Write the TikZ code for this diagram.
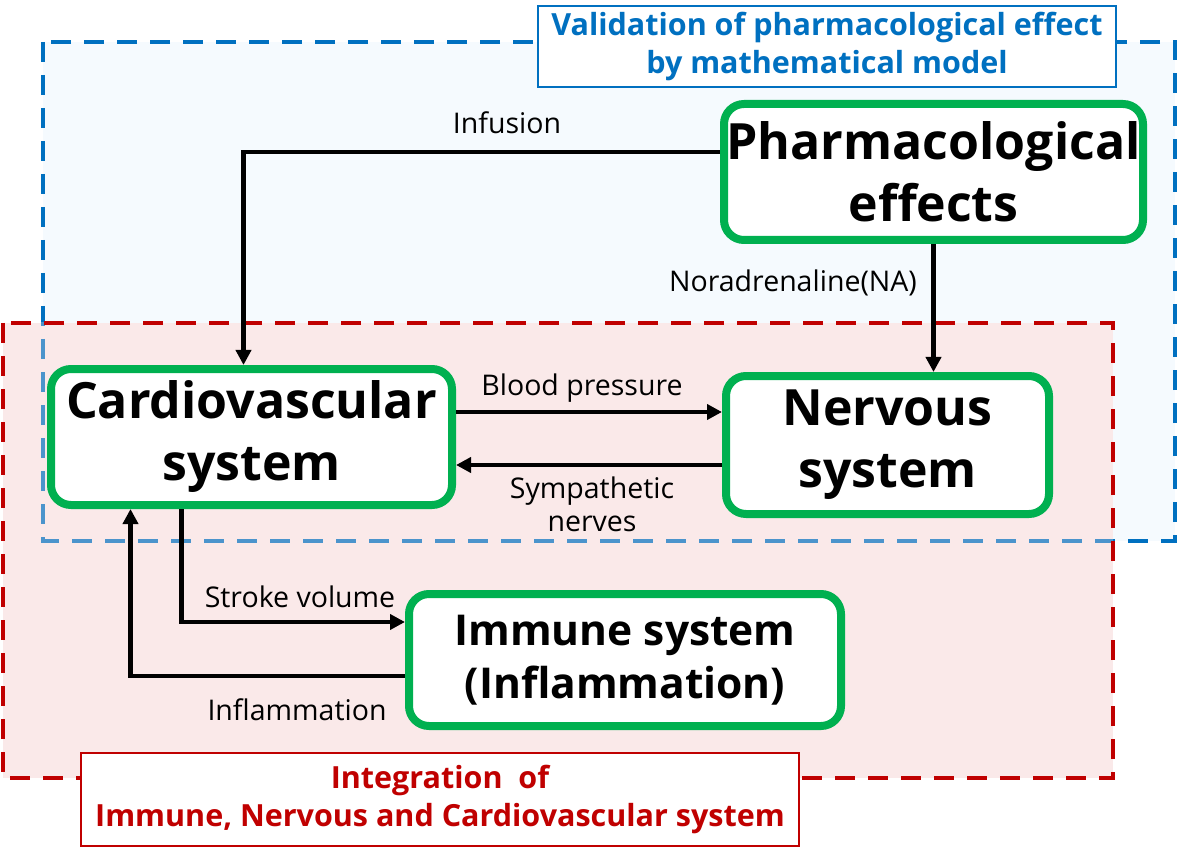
\documentclass[tikz,border=0pt]{standalone}
\usepackage{fontspec}
\setmainfont{Open Sans}
\usetikzlibrary{arrows.meta}
\definecolor{gbox}{RGB}{0,176,80}
\definecolor{bline}{RGB}{0,112,192}
\definecolor{rline}{RGB}{192,0,0}
\definecolor{bfill}{RGB}{245,250,254}
\definecolor{pfill}{RGB}{250,233,233}
\begin{document}
\begin{tikzpicture}[x=1pt,y=-1pt,
  sysbox/.style={draw=gbox,line width=8pt,rounded corners=20pt,fill=white,align=center,inner sep=0pt,
    font=\bfseries\fontsize{50}{62}\selectfont},
  arr/.style={line width=4.5pt,-{Triangle[length=15pt,width=15pt]}},
  lbl/.style={align=center,inner sep=0pt,font=\fontsize{28.5}{33}\selectfont},
  titlebox/.style={line width=2pt,fill=white,align=center,inner sep=0pt,
    font=\bfseries\fontsize{30.5}{38}\selectfont},
  region/.style={line width=4pt,dash pattern=on 20pt off 13pt}
]
\useasboundingbox (0,0) rectangle (1181,850);
% regions
\fill[bfill] (43,42) rectangle (1175,541);
\fill[pfill] (3,323) rectangle (1113,778);
\draw[region,draw=bline] (43,42) rectangle (1175,541);
\begin{scope}
  \clip (3,323) rectangle (1113,778);
  \draw[region,draw=pfill,draw opacity=0.3] (43,42) rectangle (1175,541);
\end{scope}
\draw[region,draw=rline] (3,323) rectangle (1113,778);
% titles
\node[titlebox,draw=bline,text=bline,minimum width=578pt,minimum height=81pt] (tval) at (827,46.5)
  {Validation of pharmacological effect\\by mathematical model};
\node[titlebox,draw=rline,text=rline,minimum width=718pt,minimum height=93pt] (tint) at (440,799.5)
  {Integration~~of\\Immune, Nervous and Cardiovascular system};
% systems
\node[sysbox,minimum width=419pt,minimum height=136pt] (pharm) at (933.5,172) {Pharmacological\\effects};
\node[sysbox,minimum width=401pt,minimum height=136pt] (cardio) at (251.5,437) {Cardiovascular\\system};
\node[sysbox,minimum width=323pt,minimum height=138pt] (nerv) at (887.5,445) {Nervous\\system};
\node[sysbox,minimum width=432pt,minimum height=132pt,font=\bfseries\fontsize{42.5}{53}\selectfont] (imm) at (625,660)
  {Immune system\\(Inflammation)};
% connectors
\draw[arr] ([yshift=20pt]pharm.west) -| ([xshift=-8pt]cardio.north);
\draw[arr] (pharm.south) -- (pharm.south |- nerv.north);
\draw[arr] ([yshift=25pt]cardio.east) coordinate (bp) -- (bp -| nerv.west);
\draw[arr] ([yshift=-20pt]nerv.west) coordinate (sn) -- (sn -| cardio.east);
\draw[arr] ([xshift=-70pt]cardio.south) |- ([yshift=38pt]imm.west);
\draw[arr] ([yshift=-16pt]imm.west) -| ([xshift=-121pt]cardio.south);
% labels
\node[lbl] (linf) at (507,123) {Infusion};
\node[lbl] (lna) at (793,283) {Noradrenaline(NA)};
\node[lbl] (lbp) at (582,388) {Blood pressure};
\node[lbl] (lsn) at (592,504) {Sympathetic\\nerves};
\node[lbl] (lsv) at (300,597) {Stroke volume};
\node[lbl] (lin) at (297,710) {Inflammation};
\end{tikzpicture}
\end{document}
